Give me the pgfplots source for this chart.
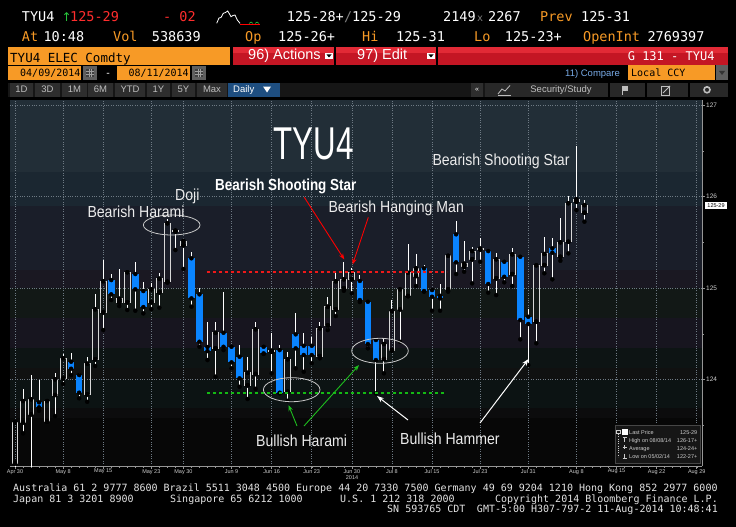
\documentclass[border=0pt]{standalone}
\usepackage{fontspec}
\setmainfont{Liberation Sans}
\newfontfamily\mono{DejaVu Sans Mono}
\newfontfamily\dvs{DejaVu Sans}
\usepackage{pgfplots}
\usepackage{pgfplotstable}
\pgfplotsset{compat=1.18}
\usetikzlibrary{arrows.meta}

\definecolor{bbo}{RGB}{247,154,38}
\definecolor{bbred}{RGB}{255,45,45}
\definecolor{upgreen}{RGB}{40,200,60}
\definecolor{barred}{RGB}{196,22,36}
\definecolor{barhi}{RGB}{226,42,54}
\definecolor{candleblue}{RGB}{10,132,255}
\definecolor{hollowc}{RGB}{215,215,215}
\definecolor{gridc}{RGB}{110,122,132}
\definecolor{axisc}{RGB}{150,150,150}
\definecolor{lab}{RGB}{205,205,205}
\definecolor{anntext}{RGB}{236,236,236}
\definecolor{ellc}{RGB}{200,200,200}
\definecolor{foot}{RGB}{228,228,228}
\definecolor{btn}{RGB}{46,46,46}
\definecolor{btntext}{RGB}{190,190,190}
\definecolor{tb}{RGB}{22,22,22}
\definecolor{tbr}{RGB}{40,40,40}
\definecolor{dailyblue}{RGB}{30,78,128}
\definecolor{calgray}{RGB}{95,95,95}
\definecolor{cmpblue}{RGB}{120,170,230}
\definecolor{legbg}{RGB}{22,22,22}
\definecolor{legbd}{RGB}{70,70,70}
\definecolor{lvred}{RGB}{240,25,25}
\definecolor{lvgreen}{RGB}{20,185,20}
\definecolor{arrgreen}{RGB}{30,190,30}
\definecolor{b1}{RGB}{34,46,55}
\definecolor{b2}{RGB}{27,39,49}
\definecolor{b3}{RGB}{26,30,41}
\definecolor{b4}{RGB}{26,24,34}
\definecolor{b5}{RGB}{18,24,22}
\definecolor{b6}{RGB}{23,21,31}
\definecolor{b7}{RGB}{13,20,20}
\definecolor{b8}{RGB}{16,17,17}
\definecolor{b9}{RGB}{12,19,19}
\definecolor{b10}{RGB}{12,12,13}
\definecolor{b11}{RGB}{7,7,7}

% hollow (up) candles: index, open, high, low, close
\pgfplotstableread{
i o h l c
0 123.084 123.55 123.03 123.532
1 123.532 123.893 123.412 123.765
2 123.620 124.049 122.86 123.784
4 123.543 123.77 123.54 123.765
5 123.831 124.074 123.601 124.002
6 124.013 124.275 123.951 124.232
9 123.838 124.249 123.757 124.173
10 124.221 124.931 124.148 124.767
11 124.734 125.306 124.541 125.073
13 124.844 125.204 124.803 124.883
14 124.844 125.18 124.760 125.172
17 124.844 125.058 124.770 124.986
18 124.953 125.161 124.785 125.102
19 125.069 125.754 125.058 125.707
20 125.618 125.633 125.415 125.628
21 125.467 125.52 125.208 125.514
25 124.341 124.632 124.031 124.511
29 123.937 124.249 123.787 124.074
30 124.060 124.632 123.899 124.549
32 124.305 124.505 124.068 124.315
34 123.867 124.304 123.768 124.221
38 124.257 124.632 124.232 124.560
39 124.592 124.905 124.541 124.796
40 124.767 125.161 124.694 125.073
41 124.997 125.287 124.970 125.095
42 125.095 125.215 124.942 125.172
46 124.224 124.453 124.068 124.388
47 124.322 124.869 124.315 124.749
48 124.767 124.99 124.413 124.986
49 124.913 125.481 124.91 125.167
50 125.131 125.368 125.022 125.215
54 124.986 125.36 124.960 125.353
56 125.233 125.514 125.178 125.266
57 125.314 125.451 125.051 125.404
58 125.421 125.546 125.287 125.431
60 125.106 125.379 124.923 125.314
62 125.153 125.434 125.022 125.368
65 124.632 125.25 124.396 125.248
66 125.251 125.561 125.161 125.372
68 125.342 125.762 125.298 125.499
69 125.506 126.005 125.379 125.926
70 125.943 126.547 125.852 125.969
71 125.823 125.962 125.725 125.906
}\hollowdata

% blue (down) candles: index, open, high, low, close
\pgfplotstableread{
i o h l c
3 123.751 123.995 123.659 123.696
7 124.195 124.293 124.049 124.118
8 124.049 124.071 123.795 123.856
12 125.087 125.153 124.869 124.931
15 125.153 125.284 124.752 124.986
16 124.967 125.066 124.723 124.792
22 125.325 125.390 124.796 124.887
23 124.931 124.997 124.358 124.413
24 124.355 124.632 124.213 124.311
26 124.511 124.960 124.322 124.358
27 124.358 124.377 124.122 124.188
28 124.249 124.377 123.921 124.013
31 124.358 124.37 124.28 124.286
33 124.322 124.377 123.849 123.856
35 124.494 124.730 124.122 124.341
36 124.369 124.505 124.085 124.268
37 124.369 124.468 124.177 124.268
43 125.077 125.142 124.847 124.869
44 124.850 124.869 124.341 124.388
45 124.432 124.450 123.849 124.213
51 125.215 125.251 124.96 124.967
52 124.978 124.986 124.752 124.905
53 124.916 125.044 124.752 124.887
55 125.587 125.736 125.153 125.281
59 125.404 125.41 124.949 125.044
61 125.287 125.29 125.062 125.123
63 125.342 125.35 124.439 124.650
64 124.686 124.767 124.158 124.607
67 125.434 125.543 125.095 125.386
}\bluedata

\newcommand\hdr{\mono\fontsize{13.5}{15}\selectfont}
\newcommand\hd[4]{\node[anchor=base west,inner sep=0pt,text=#3,font=\hdr] at (#1,#2) {#4};}
\newcommand\ann[3]{\node[anchor=base west,inner sep=0pt,text=anntext] at (#1,#2) {\scalebox{0.88}[1]{\fontsize{16}{18}\selectfont #3}};}
\newcommand\ddicon[2]{\fill[white] (#1,#2) rectangle ({#1+8},{#2+6}); \fill[black] ({#1+1.5},{#2+1.5}) -- ({#1+6.5},{#2+1.5}) -- ({#1+4},{#2+4.5}) -- cycle;}
\newcommand\calicon[1]{\fill[calgray] (#1,66) rectangle ({#1+14},80); \fill[black!75] ({#1+3},69) rectangle ({#1+11},77); \draw[calgray!60!white,line width=0.4pt] ({#1+3},71.5) -- ({#1+11},71.5) ({#1+3},74.2) -- ({#1+11},74.2) ({#1+5.7},69) -- ({#1+5.7},77) ({#1+8.4},69) -- ({#1+8.4},77);}
\newcommand\legrow[3]{\node[anchor=base west,inner sep=0pt,text=lab,font=\fontsize{5.5}{6}\selectfont] at (629,#1) {#2};
  \node[anchor=base east,inner sep=0pt,text=lab,font=\fontsize{5.5}{6}\selectfont] at (697.5,#1) {#3};}

\begin{document}
\begin{tikzpicture}
\useasboundingbox (0,0) rectangle (736pt,-527pt);
\fill[black] (0,0) rectangle (736pt,-527pt);
\begin{scope}[x=1pt,y=-1pt]
% ---------- header row 1
\hd{21.7}{21.7}{white}{TYU4}
\node[anchor=base west,inner sep=0pt,text=upgreen,font=\dvs\fontsize{12}{14}\selectfont] at (61.5,21.7) {↑};
\hd{70}{21.7}{bbred}{125-29}
\hd{163}{21.7}{bbred}{- 02}
\draw[white,line width=0.8pt] (216.7,23.3) -- (219,18) -- (221,17.5) -- (223.3,13.3) -- (225.5,12.5) -- (227.7,11) -- (229.5,14) -- (231,16.7) -- (233,15.5) -- (235,15) -- (237.3,20) -- (240,23.3);
\draw[red,line width=0.8pt] (240,24) -- (260,24);
\draw[upgreen,line width=0.6pt] (249,23.5) -- (251,22) -- (253,23.5) (255,23.5) -- (257,22) -- (259,23.5);
\hd{286.7}{21.7}{white}{125-28+}
\hd{344}{21.7}{gray}{/}
\hd{352}{21.7}{white}{125-29}
\hd{443}{21.7}{white}{2149}
\node[anchor=base west,inner sep=0pt,text=gray,font=\mono\fontsize{10}{12}\selectfont] at (477,21.7) {x};
\hd{488}{21.7}{white}{2267}
\hd{540}{21.7}{bbo}{Prev}
\hd{581}{21.7}{white}{125-31}
% ---------- header row 2
\hd{21.7}{41.7}{bbo}{At}
\hd{43.3}{41.7}{white}{10:48}
\hd{113}{41.7}{bbo}{Vol}
\hd{151.7}{41.7}{white}{538639}
\hd{245}{41.7}{bbo}{Op}
\hd{278}{41.7}{white}{125-26+}
\hd{362}{41.7}{bbo}{Hi}
\hd{396}{41.7}{white}{125-31}
\hd{474}{41.7}{bbo}{Lo}
\hd{504.7}{41.7}{white}{125-23+}
\hd{583}{41.7}{bbo}{OpenInt}
\hd{647.3}{41.7}{white}{2769397}
% ---------- row 3
\fill[bbo] (8,46.7) rectangle (230,65.3);
\node[anchor=base west,inner sep=0pt,text=black,font=\mono\fontsize{12.5}{14}\selectfont] at (10,62.5) {TYU4 ELEC Comdty};
\foreach \a/\b in {233/334,336/436,438/728}{
  \fill[barred] (\a,46.7) rectangle (\b,65.3);
  \fill[barhi] (\a,46.7) rectangle (\b,53);
}
\node[anchor=base west,inner sep=0pt,text=white,font=\fontsize{14.5}{16}\selectfont] at (248,59.8) {96) Actions};
\ddicon{325}{53}
\node[anchor=base west,inner sep=0pt,text=white,font=\fontsize{14.5}{16}\selectfont] at (357,59.8) {97) Edit};
\ddicon{427}{53}
\node[anchor=base east,inner sep=0pt,text=white,font=\mono\fontsize{12}{14}\selectfont] at (714.7,60.5) {G 131 - TYU4};
% ---------- row 4
\fill[bbo] (8,65.7) rectangle (81,80);
\node[anchor=base west,inner sep=0pt,text=black,font=\mono\fontsize{10}{12}\selectfont] at (20,76.5) {04/09/2014};
\calicon{83}
\node[anchor=base west,inner sep=0pt,text=white,font=\mono\fontsize{10}{12}\selectfont] at (105,76.5) {-};
\fill[bbo] (117,65.7) rectangle (190,80);
\node[anchor=base west,inner sep=0pt,text=black,font=\mono\fontsize{10}{12}\selectfont] at (128.3,76.5) {08/11/2014};
\calicon{192}
\node[anchor=base west,inner sep=0pt,text=cmpblue,font=\fontsize{9.5}{11}\selectfont] at (565,76.3) {11) Compare};
\fill[bbo] (628,65.5) rectangle (715,80);
\node[anchor=base west,inner sep=0pt,text=black,font=\mono\fontsize{10}{12}\selectfont] at (631,76.5) {Local CCY};
\fill[calgray] (716,65.5) rectangle (728,80);
\fill[black!80] (719,71) -- (725,71) -- (722,75) -- cycle;
% ---------- row 5 (toolbar)
\fill[tb] (8,82.7) rectangle (728,96.7);
\foreach \a/\b/\t in {10/33/1D,35/60/3D,62/87/1M,88/113/6M,115/145/YTD,147/170/1Y,172/195/5Y,197/227/Max}{
  \fill[btn] (\a,83) rectangle (\b,96.5);
  \node[anchor=base,inner sep=0pt,text=btntext,font=\fontsize{9.5}{11}\selectfont] at ({(\a+\b)/2},92.7) {\t};
}
\fill[dailyblue] (228,83) rectangle (280,96.5);
\node[anchor=base west,inner sep=0pt,text=white,font=\fontsize{9.5}{11}\selectfont] at (233,92.7) {Daily};
\fill[white] (263,86.5) -- (271,86.5) -- (267,92.5) -- cycle;
\fill[btn] (471,83) rectangle (483,96.5);
\node[anchor=base,inner sep=0pt,text=white,font=\fontsize{7}{8}\selectfont] at (477,92) {«};
\fill[tbr] (485,83) rectangle (728,96.5);
\foreach \s in {608,645,688}{\fill[black] (\s,83) rectangle ({\s+1.5},96.5);}
\draw[btntext,line width=0.8pt] (498,94) -- (502,89) -- (505,91) -- (510,85.5);
\draw[btntext,line width=0.6pt] (498,95) -- (511,95);
\node[anchor=base,inner sep=0pt,text=btntext,font=\fontsize{9.5}{11}\selectfont] at (561,92.7) {Security/Study};
\fill[btntext] (622,86) rectangle (628,91);
\draw[btntext,line width=0.7pt] (622,86) -- (622,95);
\draw[btntext,line width=0.6pt] (661,86) rectangle (669,95);
\draw[btntext,line width=0.8pt] (663,93) -- (670,86);
\draw[btntext,line width=1.6pt] (707,89.8) circle [radius=3];
% ---------- chart background bands
\fill[b1] (10,100) rectangle (702,172);
\fill[b2] (10,172) rectangle (702,206);
\fill[b3] (10,206) rectangle (702,270);
\fill[b4] (10,270) rectangle (702,288);
\fill[b5] (10,288) rectangle (702,318);
\fill[b6] (10,318) rectangle (702,348);
\fill[b7] (10,348) rectangle (702,368);
\fill[b8] (10,368) rectangle (702,380);
\fill[b9] (10,380) rectangle (702,408);
\fill[b10] (10,408) rectangle (702,418);
\fill[b11] (10,418) rectangle (702,466);
\end{scope}

\begin{axis}[
  at={(10pt,-466pt)}, anchor=south west,
  scale only axis, width=692pt, height=366pt,
  xmin=-0.623, xmax=85.66, ymin=123.055, ymax=127.055,
  axis x line*=bottom, axis y line*=right,
  axis line style={draw=axisc, line width=0.6pt, -},
  xtick={0,6,11,17,21,27,32,37,42,47,52,58,64,70,75,80,85},
  xticklabels={Apr 30,May 8,May 15,May 23,May 30,Jun 9,Jun 16,Jun 23,Jun 30,Jul 8,Jul 15,Jul 23,Jul 31,Aug 8,Aug 15,Aug 22,Aug 29},
  minor xtick={0,1,...,85},
  ytick={124,125,126,127}, yticklabels={124,125,126,127},
  minor ytick={123.5,124.5,125.5,126.5},
  tick align=outside, major tick length=3pt, minor tick length=1.5pt,
  tick style={draw=axisc, line width=0.5pt},
  minor tick style={draw=axisc, line width=0.4pt},
  grid=major, major grid style={draw=gridc, dotted, line width=0.5pt},
  xticklabel style={font=\fontsize{5.5}{6}\selectfont, text=lab, inner sep=1pt, yshift=1pt},
  yticklabel style={font=\fontsize{6.5}{7}\selectfont, text=lab, inner sep=1pt},
]
% wicks
\addplot[only marks, mark=none, error bars/.cd, y dir=plus, y explicit, error mark=none,
  error bar style={draw=white, line width=0.9pt}]
  table[x=i, y=c, y error plus expr=\thisrow{h}-\thisrow{c}] {\hollowdata};
\addplot[only marks, mark=none, error bars/.cd, y dir=plus, y explicit, error mark=none,
  error bar style={draw=white, line width=0.9pt}]
  table[x=i, y=l, y error plus expr=\thisrow{o}-\thisrow{l}] {\hollowdata};
\addplot[only marks, mark=none, error bars/.cd, y dir=plus, y explicit, error mark=none,
  error bar style={draw=white, line width=0.9pt}]
  table[x=i, y=o, y error plus expr=\thisrow{h}-\thisrow{o}] {\bluedata};
\addplot[only marks, mark=none, error bars/.cd, y dir=plus, y explicit, error mark=none,
  error bar style={draw=white, line width=0.9pt}]
  table[x=i, y=l, y error plus expr=\thisrow{c}-\thisrow{l}] {\bluedata};
% blue bodies
\addplot[only marks, mark=none, error bars/.cd, y dir=plus, y explicit, error mark=none,
  error bar style={draw=candleblue, line width=6.6pt}]
  table[x=i, y=c, y error plus expr=\thisrow{o}-\thisrow{c}] {\bluedata};
% hollow bodies: left and right edges
\addplot[only marks, mark=none, error bars/.cd, y dir=plus, y explicit, error mark=none,
  error bar style={draw=hollowc, line width=1pt, xshift=-2.9pt}]
  table[x=i, y=o, y error plus expr=\thisrow{c}-\thisrow{o}] {\hollowdata};
\addplot[only marks, mark=none, error bars/.cd, y dir=plus, y explicit, error mark=none,
  error bar style={draw=hollowc, line width=1pt, xshift=2.9pt}]
  table[x=i, y=o, y error plus expr=\thisrow{c}-\thisrow{o}] {\hollowdata};
% hollow bodies: top and bottom edges
\addplot[only marks, mark=none, error bars/.cd, x dir=both, x fixed=0.36, error mark=none,
  error bar style={draw=hollowc, line width=1pt, line cap=rect}]
  table[x=i, y=c] {\hollowdata};
\addplot[only marks, mark=none, error bars/.cd, x dir=both, x fixed=0.36, error mark=none,
  error bar style={draw=hollowc, line width=1pt, line cap=rect}]
  table[x=i, y=o] {\hollowdata};
\end{axis}

\begin{scope}[x=1pt,y=-1pt]
\node[anchor=base,inner sep=0pt,text=lab,font=\fontsize{5.5}{6}\selectfont] at (352,479) {2014};
% price tag
\fill[white] (705,201.7) rectangle (727,209.3);
\node[inner sep=0pt,text=black,font=\fontsize{5.5}{6}\selectfont] at (716,205.5) {125-29};
% level lines
\draw[draw=lvred,line width=1.8pt,dash pattern=on 3pt off 3pt] (206.7,271.7) -- (446.7,271.7);
\draw[draw=lvgreen,line width=1.8pt,dash pattern=on 3pt off 3pt] (207,393.3) -- (445,393.3);
% ellipses
\draw[ellc,line width=0.8pt] (171.7,225) ellipse [x radius=28.3, y radius=10];
\draw[ellc,line width=0.8pt] (291.7,389.7) ellipse [x radius=28.3, y radius=12];
\draw[ellc,line width=0.8pt] (380,350.8) ellipse [x radius=28.3, y radius=12.5];
% arrows
\draw[red,line width=0.9pt,-{Stealth[length=6pt,width=4.5pt]}] (304.3,197.3) -- (344.3,259.5);
\draw[red,line width=0.9pt,-{Stealth[length=6pt,width=4.5pt]}] (368.3,217.3) -- (352.6,264.5);
\draw[arrgreen,line width=0.9pt,-{Stealth[length=6pt,width=4.5pt]}] (297,426) -- (288.5,405);
\draw[arrgreen,line width=0.9pt,-{Stealth[length=6pt,width=4.5pt]}] (304,426) -- (359,365);
\draw[white,line width=1pt,-{Stealth[length=7pt,width=5pt]}] (408,420) -- (377,396);
\draw[white,line width=1pt,-{Stealth[length=7pt,width=5pt]}] (480,423) -- (528.5,359);
% annotation texts
\node[anchor=base west,inner sep=0pt,text=white] at (273.3,159.3) {\scalebox{0.68}[1]{\fontsize{46}{50}\selectfont TYU4}};
\ann{87.3}{217}{Bearish Harami}
\ann{175}{200}{Doji}
\node[anchor=base west,inner sep=0pt,text=white] at (215,190) {\scalebox{0.84}[1]{\fontsize{16}{18}\selectfont\bfseries Bearish Shooting Star}};
\ann{328.3}{212.3}{Bearish Hanging Man}
\ann{432.3}{165.7}{Bearish Shooting Star}
\ann{256}{446}{Bullish Harami}
\ann{400}{444}{Bullish Hammer}
% legend box
\fill[legbg] (615,425) rectangle (700,463);
\draw[legbd,line width=0.4pt] (615,425) rectangle (700,463);
\draw[lab,line width=0.3pt] (616.5,430) rectangle (620,433.5);
\draw[lab,line width=0.3pt,dotted] (618.3,434) -- (618.3,457);
\fill[white] (622,428.5) rectangle (627.5,434.5);
\draw[lab,line width=0.5pt] (622.5,437) -- (626.5,437) (624.5,437) -- (624.5,442);
\draw[lab,line width=0.5pt] (622.5,447.3) -- (626.5,447.3) (624.5,445.3) -- (624.5,449.3);
\draw[lab,line width=0.5pt] (624.5,453.5) -- (624.5,458) (622.5,458) -- (626.5,458);
\legrow{434}{Last Price}{125-29}
\legrow{442}{High on 08/08/14}{126-17+}
\legrow{450}{Average}{124-24+}
\legrow{458.3}{Low on 05/02/14}{122-27+}
% footer
\node[anchor=base west,inner sep=0pt,text=foot,font=\mono\fontsize{10}{12}\selectfont] at (13,491) {Australia 61 2 9777 8600 Brazil 5511 3048 4500 Europe 44 20 7330 7500 Germany 49 69 9204 1210 Hong Kong 852 2977 6000};
\node[anchor=base west,inner sep=0pt,text=foot,font=\mono\fontsize{10}{12}\selectfont] at (13,502) {Japan 81 3 3201 8900};
\node[anchor=base west,inner sep=0pt,text=foot,font=\mono\fontsize{10}{12}\selectfont] at (170,502) {Singapore 65 6212 1000};
\node[anchor=base west,inner sep=0pt,text=foot,font=\mono\fontsize{10}{12}\selectfont] at (340,502) {U.S. 1 212 318 2000};
\node[anchor=base east,inner sep=0pt,text=foot,font=\mono\fontsize{10}{12}\selectfont] at (718,502) {Copyright 2014 Bloomberg Finance L.P.};
\node[anchor=base west,inner sep=0pt,text=foot,font=\mono\fontsize{10}{12}\selectfont] at (387,512) {SN 593765 CDT};
\node[anchor=base east,inner sep=0pt,text=foot,font=\mono\fontsize{10}{12}\selectfont] at (718,512) {GMT-5:00 H307-797-2 11-Aug-2014 10:48:41};
\end{scope}
\end{tikzpicture}
\end{document}
